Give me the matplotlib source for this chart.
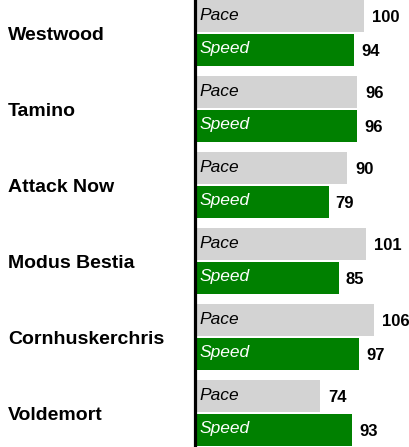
import numpy as np
import matplotlib.pyplot as plt

players = ['Westwood', 'Tamino', 'Attack Now', 'Modus Bestia', 'Cornhuskerchris', 'Voldemort']
pace = [100, 96, 90, 101, 106, 74]
speed = [94, 96, 79, 85, 97, 93]

font = 'Liberation Sans'

W, H = 410, 447
fig = plt.figure(figsize=(W / 100, H / 100), dpi=100)
ax = fig.add_axes([0, 0, 1, 1])

# 1.68 px per value unit, zero at x=196 px
px = 1.68
x0 = 196
ax.set_xlim(-x0 / px, (W - x0) / px)
ax.set_ylim(H, 0)
ax.axis('off')

group = 76
bar_h = 32
y = np.arange(len(players)) * group
y_pace = y + bar_h / 2
y_speed = y + bar_h + 2 + bar_h / 2

ax.barh(y_pace, pace, height=bar_h, color='#d3d3d3', left=0)
ax.barh(y_speed, speed, height=bar_h, color='#008000', left=0)

# axis line
ax.axvline(-1.5 / px, color='black', lw=2.3)

for i, name in enumerate(players):
    ax.text(8 / px - x0 / px, y[i] + 35, name, ha='left', va='center',
            fontsize=14, fontweight='bold', family=font)
    ax.text(3 / px, y_pace[i] - 1, 'Pace', ha='left', va='center',
            fontsize=12.5, style='italic', color='black', family=font)
    ax.text(3 / px, y_speed[i] - 1, 'Speed', ha='left', va='center',
            fontsize=12.5, style='italic', color='white', family=font)
    ax.text(pace[i] + 8 / px, y_pace[i] + 1, str(pace[i]), ha='left', va='center',
            fontsize=12, fontweight='bold', family=font)
    ax.text(speed[i] + 7 / px, y_speed[i] + 1, str(speed[i]), ha='left', va='center',
            fontsize=12, fontweight='bold', family=font)

fig.savefig('out.png', dpi=100)
